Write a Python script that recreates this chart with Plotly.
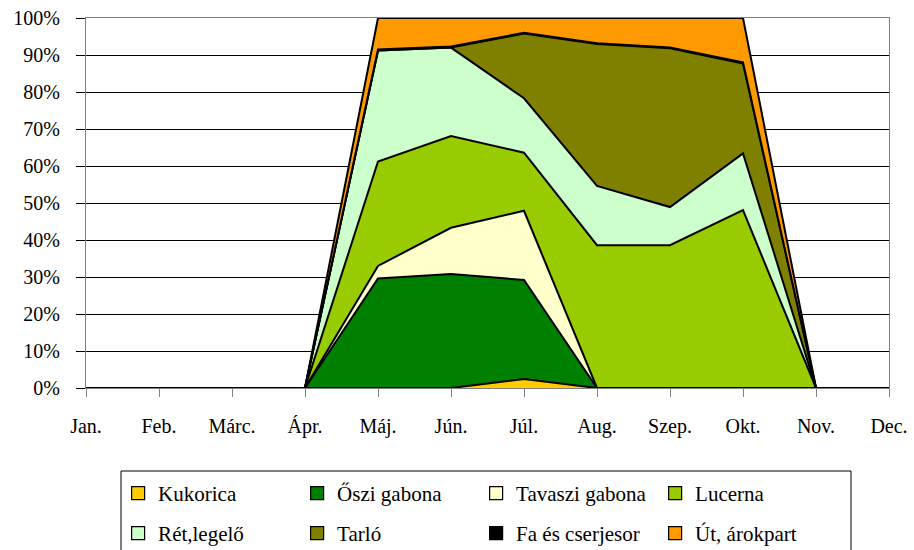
import plotly.graph_objects as go

# Months (Hungarian abbreviations)
months = ['Jan.', 'Feb.', 'Márc.', 'Ápr.', 'Máj.', 'Jún.',
          'Júl.', 'Aug.', 'Szep.', 'Okt.', 'Nov.', 'Dec.']

# Land use share per month, in percent
kukorica       = [0, 0, 0, 0, 0.0,  0.0,  2.4,  0.0,  0.0,  0.0,  0, 0]
oszi_gabona    = [0, 0, 0, 0, 29.6, 30.8, 26.8, 0.0,  0.0,  0.0,  0, 0]
tavaszi_gabona = [0, 0, 0, 0, 3.4,  12.5, 18.7, 0.0,  0.0,  0.0,  0, 0]
lucerna        = [0, 0, 0, 0, 28.2, 24.8, 15.7, 38.6, 38.6, 48.1, 0, 0]
ret_legelo     = [0, 0, 0, 0, 30.0, 23.9, 14.7, 16.0, 10.3, 15.3, 0, 0]
tarlo          = [0, 0, 0, 0, 0.0,  0.0,  17.5, 38.4, 42.9, 24.3, 0, 0]
fa_cserjesor   = [0, 0, 0, 0, 0.3,  0.3,  0.2,  0.2,  0.2,  0.3,  0, 0]
ut_arokpart    = [0, 0, 0, 0, 8.5,  7.7,  4.0,  6.8,  8.0,  12.0, 0, 0]

series = [
    ('Kukorica', kukorica, '#FFCC00'),
    ('Őszi gabona', oszi_gabona, '#008000'),
    ('Tavaszi gabona', tavaszi_gabona, '#FFFFCC'),
    ('Lucerna', lucerna, '#99CC00'),
    ('Rét,legelő', ret_legelo, '#CCFFCC'),
    ('Tarló', tarlo, '#808000'),
    ('Fa és cserjesor', fa_cserjesor, '#000000'),
    ('Út, árokpart', ut_arokpart, '#FF9900'),
]

font_family = 'Liberation Serif'

fig = go.Figure()
for name, vals, color in series:
    fig.add_trace(go.Scatter(
        x=list(range(len(months))), y=vals, name=name,
        mode='lines', stackgroup='one',
        line=dict(color='black', width=2),
        fillcolor=color, showlegend=False,
    ))

# square legend keys with black border, two rows of four
for i, (name, vals, color) in enumerate(series):
    fig.add_trace(go.Scatter(
        x=[None], y=[None], name=name, mode='markers',
        legend='legend' if i < 4 else 'legend2',
        marker=dict(symbol='square', size=13, color=color,
                    line=dict(color='black', width=1.2)),
    ))

legend_style = dict(
    orientation='h', traceorder='normal',
    x=0.04, xanchor='left', yanchor='top',
    entrywidth=134, entrywidthmode='pixels',
    borderwidth=0, bgcolor='rgba(0,0,0,0)',
    font=dict(family=font_family, size=21),
    itemwidth=30,
)

fig.update_layout(
    width=914, height=550,
    margin=dict(l=86, r=25, t=18, b=162, autoexpand=False),
    paper_bgcolor='white', plot_bgcolor='white',
    font=dict(family=font_family, size=20, color='black'),
    showlegend=True,
    legend=dict(legend_style, y=-0.2297),
    legend2=dict(legend_style, y=-0.3378),
    shapes=[dict(
        type='rect', xref='paper', yref='paper',
        x0=(121 - 86) / 803, x1=(851 - 86) / 803,
        y0=(388 - 565) / 370, y1=(388 - 471) / 370,
        line=dict(color='black', width=1), fillcolor='rgba(0,0,0,0)',
    )],
    xaxis=dict(
        range=[0, 11],
        tickmode='array', tickvals=list(range(len(months))), ticktext=months,
        showgrid=False, zeroline=False,
        showline=True, linecolor='#808080', linewidth=1, mirror=True,
        ticks='outside', ticklen=8, tickcolor='#808080',
        ticklabelstandoff=12,
    ),
    yaxis=dict(
        range=[0, 100],
        tickmode='array', tickvals=list(range(0, 101, 10)),
        ticktext=[f'{v}%' for v in range(0, 101, 10)],
        tickfont=dict(size=20),
        showgrid=True, gridcolor='black', gridwidth=1,
        zeroline=False,
        showline=True, linecolor='#808080', linewidth=1, mirror=True,
        ticks='outside', ticklen=9, tickcolor='black',
        ticklabelstandoff=12,
    ),
)

fig.write_html("out.html", config={'displayModeBar': False},
               post_script="document.body.style.margin='0';")
